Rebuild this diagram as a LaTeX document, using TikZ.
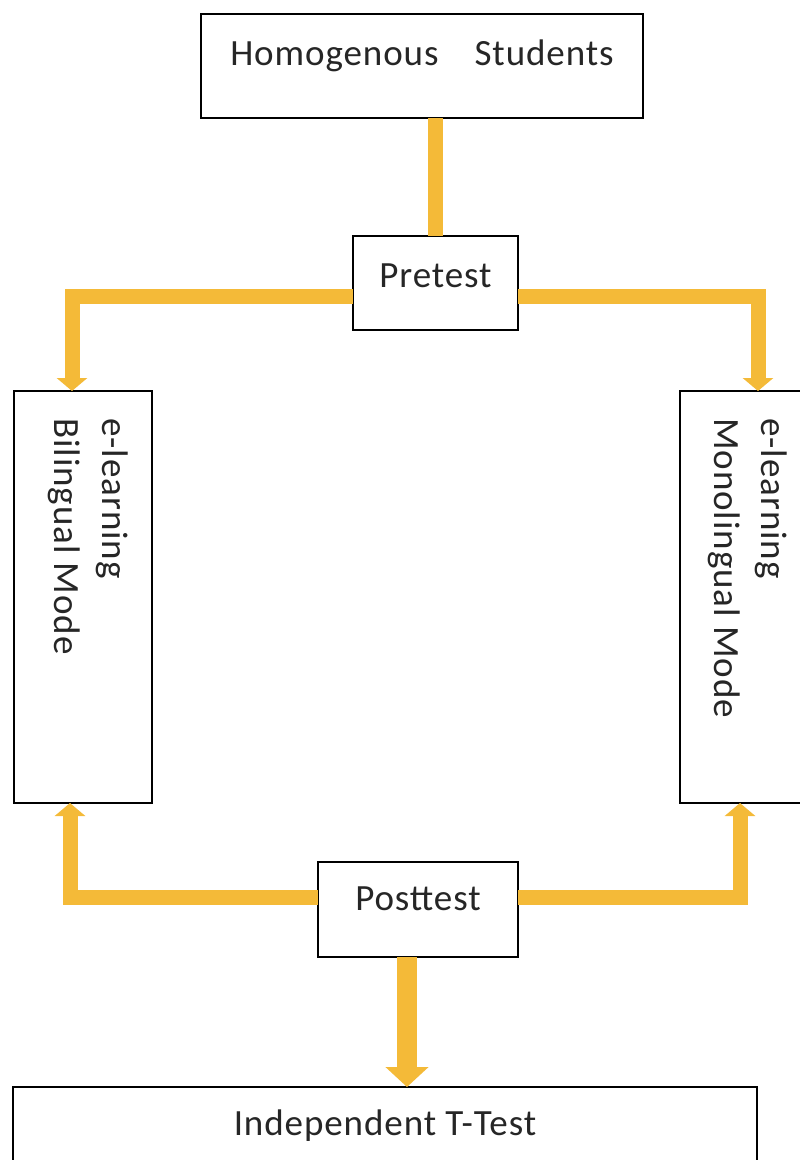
\documentclass[tikz,border=0pt]{standalone}
\usepackage{fontspec}
\setmainfont[LetterSpace=2.5]{Carlito}
\usetikzlibrary{arrows.meta}
\definecolor{gold}{RGB}{244,186,56}
\tikzset{
  box/.style={draw=black, line width=2pt, fill=white, inner sep=0pt, outer sep=0pt,
    font=\fontsize{37}{44}\selectfont, text=black!85},
  vtext/.style={rotate=-90, anchor=base west, inner sep=0pt, font=\fontsize{37}{44}\selectfont, text=black!85},
  conn/.style={draw=gold, line width=15pt, line join=miter},
  arr/.style={conn, -{Triangle[width=30pt,length=13pt]}},
  bigarr/.style={draw=gold, line width=20pt, -{Triangle[width=42pt,length=20pt]}}
}
\begin{document}
\begin{tikzpicture}[x=1pt,y=-1pt]
\useasboundingbox (0,0) rectangle (800,1160);
\clip (0,0) rectangle (800,1160);
% boxes
\node[box, minimum width=442pt, text height=51pt, text depth=53pt] (top) at (422,66) {Homogenous\hspace{36pt}Students};
\node[box, minimum width=165pt, text height=51pt, text depth=43pt] (pre) at (435.5,283) {Pretest};
\node[box, minimum width=138pt, minimum height=412pt] (lbox) at (83,597) {};
\node[box, minimum width=138pt, minimum height=412pt] (rbox) at (749,597) {};
\node[box, minimum width=200pt, text height=48pt, text depth=47pt] (post) at (418,909.5) {Posttest};
\node[box, minimum width=744pt, text height=48pt, text depth=45pt] (bot) at (385,1133.5) {Independent T-Test};
% rotated texts
\node[vtext] (l1) at (102,418) {e-learning};
\node[vtext] (l2) at (54,418) {Bilingual Mode};
\node[vtext] (r1) at (761,418) {e-learning};
\node[vtext] (r2) at (714,418) {Monolingual Mode};
% connectors
\draw[conn] (pre.north |- top.south) -- (pre.north);
\draw[arr] ([yshift=-13pt]pre.west) -| ([xshift=-11pt]lbox.north);
\draw[arr] ([yshift=-13pt]pre.east) -| ([xshift=9pt]rbox.north);
\draw[arr] ([yshift=12.5pt]post.west) -| ([xshift=-13pt]lbox.south);
\draw[arr] ([yshift=12.5pt]post.east) -| ([xshift=-9pt]rbox.south);
\coordinate (dtop) at ([xshift=-11pt]post.south);
\coordinate (dbot) at (dtop |- bot.north);
\draw[bigarr] (dtop) -- (dbot);
\end{tikzpicture}
\end{document}
